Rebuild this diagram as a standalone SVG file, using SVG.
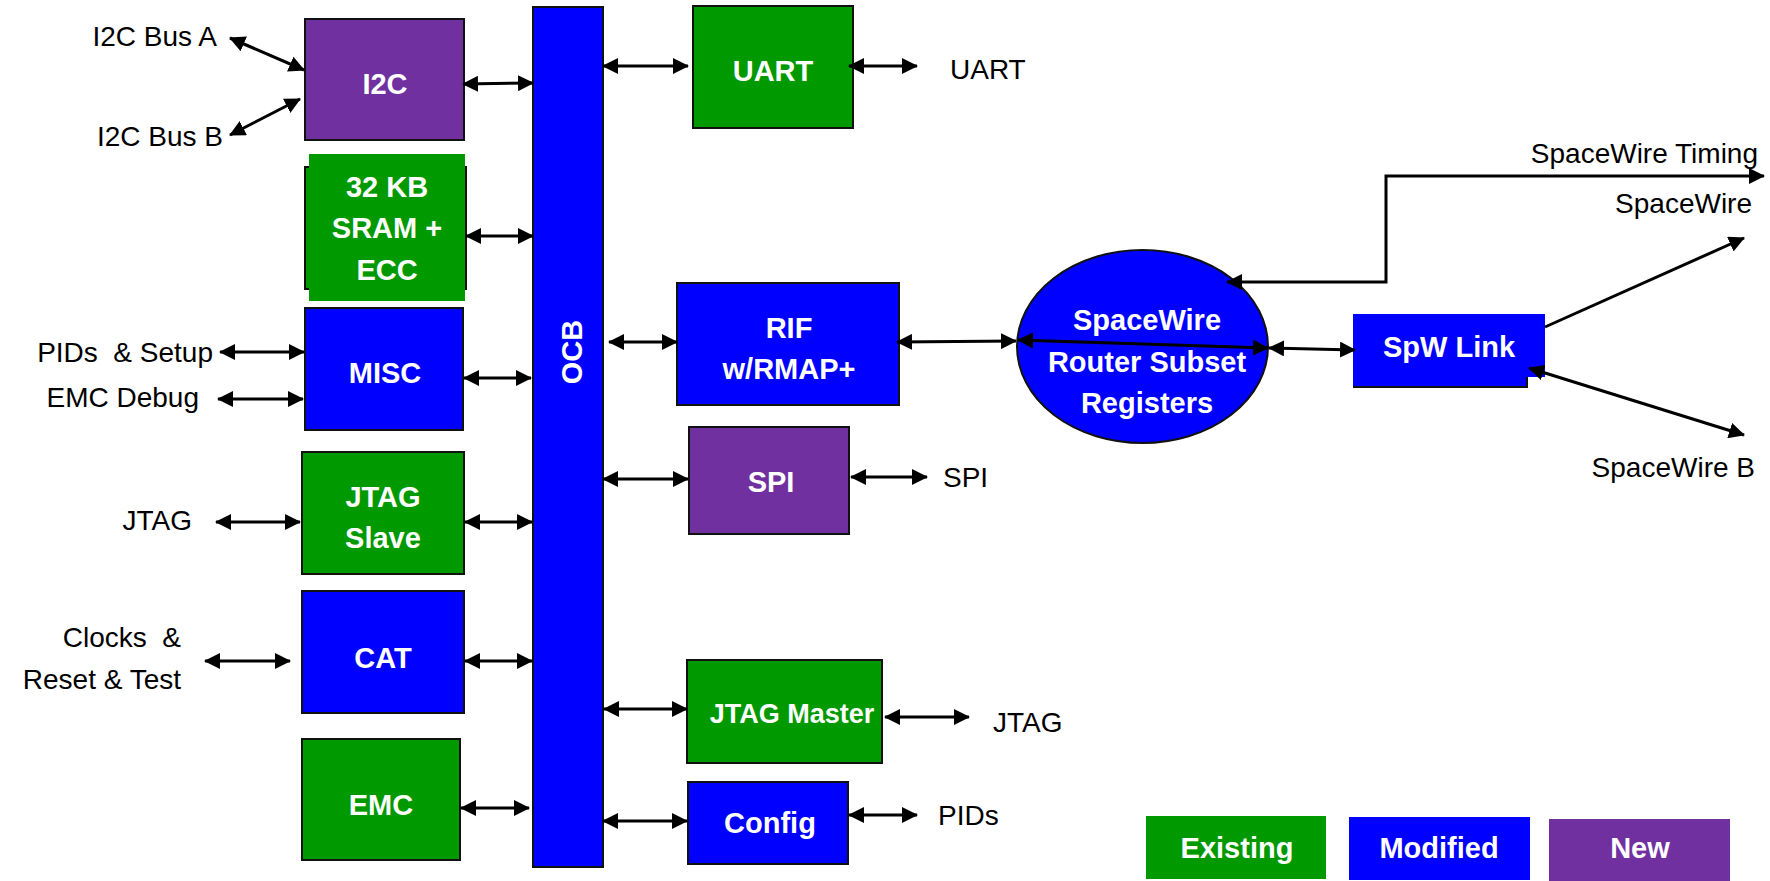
<svg xmlns="http://www.w3.org/2000/svg" width="1770" height="881" viewBox="0 0 1770 881">
<style>
.bg{fill:#fff}
.g{fill:#009900;stroke:#111;stroke-width:2}
.b{fill:#0000ff;stroke:#111;stroke-width:2}
.p{fill:#7030a0;stroke:#111;stroke-width:2}
.nl{font-family:"Liberation Sans",Arial,sans-serif;font-weight:bold;font-size:29px;fill:#fff;text-anchor:middle}
.el{font-family:"Liberation Sans",Arial,sans-serif;font-size:28px;fill:#000;white-space:pre}
.e{text-anchor:end}
.c line,.c polyline{stroke:#000;stroke-width:3;fill:none}
.bi{marker-start:url(#ah);marker-end:url(#ah)}
.one{marker-end:url(#ah)}
</style>
<defs>
<marker id="ah" viewBox="0 0 16 16" refX="15" refY="8" markerWidth="16" markerHeight="16" markerUnits="userSpaceOnUse" orient="auto-start-reverse"><path d="M0,0 L16,8 L0,16 z" fill="#000"/></marker>
</defs>
<rect class="bg" x="0" y="0" width="1770" height="881"/>

<g id="ocb"><rect class="b" x="533" y="7" width="70" height="860"/><text class="nl" transform="translate(572,352) rotate(-90)" x="0" y="10">OCB</text></g>

<g id="i2c"><rect class="p" x="305" y="19" width="159" height="121"/><text class="nl" x="385" y="94">I2C</text></g>
<g id="sram"><rect x="305" y="167" width="161" height="122" fill="#009900" stroke="#111" stroke-width="2"/><rect x="309" y="154" width="156" height="147" fill="#009900"/><text class="nl" x="387" y="197">32 KB</text><text class="nl" x="387" y="238">SRAM +</text><text class="nl" x="387" y="280">ECC</text></g>
<g id="misc"><rect class="b" x="305" y="308" width="158" height="122"/><text class="nl" x="385" y="383">MISC</text></g>
<g id="jtagslave"><rect class="g" x="302" y="452" width="162" height="122"/><text class="nl" x="383" y="507">JTAG</text><text class="nl" x="383" y="548">Slave</text></g>
<g id="cat"><rect class="b" x="302" y="591" width="162" height="122"/><text class="nl" x="383" y="668">CAT</text></g>
<g id="emc"><rect class="g" x="302" y="739" width="158" height="121"/><text class="nl" x="381" y="815">EMC</text></g>

<g id="uart"><rect class="g" x="693" y="6" width="160" height="122"/><text class="nl" x="773" y="81">UART</text></g>
<g id="rif"><rect class="b" x="677" y="283" width="222" height="122"/><text class="nl" x="789" y="338">RIF</text><text class="nl" x="789" y="379">w/RMAP+</text></g>
<g id="spi"><rect class="p" x="689" y="427" width="160" height="107"/><text class="nl" x="771" y="492">SPI</text></g>
<g id="jtagmaster"><rect class="g" x="687" y="660" width="195" height="103"/><text class="nl" x="792" y="723" style="font-size:27px">JTAG Master</text></g>
<g id="config"><rect class="b" x="688" y="782" width="160" height="82"/><text class="nl" x="770" y="833">Config</text></g>

<g id="router"><ellipse class="b" cx="1142.5" cy="346.5" rx="125.5" ry="96.5"/><text class="nl" x="1147" y="330">SpaceWire</text><text class="nl" x="1147" y="372">Router Subset</text><text class="nl" x="1147" y="413">Registers</text></g>
<g id="spwlink"><path d="M1353,314 H1545 V377 H1527 V387 H1353 Z" fill="#0000ff"/><polyline points="1353,387 1527,387 1527,377" fill="none" stroke="#111" stroke-width="2"/><text class="nl" x="1449" y="357">SpW Link</text></g>

<g id="legend-existing"><rect x="1146" y="816" width="180" height="63" fill="#009900"/><text class="nl" x="1237" y="858">Existing</text></g>
<g id="legend-modified"><rect x="1349" y="817" width="181" height="63" fill="#0000ff"/><text class="nl" x="1439" y="858">Modified</text></g>
<g id="legend-new"><rect x="1549" y="819" width="181" height="62" fill="#7030a0"/><text class="nl" x="1640" y="858">New</text></g>

<g id="labels">
<text class="el e" x="217" y="46">I2C Bus A</text>
<text class="el e" x="223" y="146">I2C Bus B</text>
<text class="el e" x="213" y="362">PIDs  &amp; Setup</text>
<text class="el e" x="199" y="407">EMC Debug</text>
<text class="el e" x="192" y="530">JTAG</text>
<text class="el e" x="181" y="647">Clocks  &amp;</text>
<text class="el e" x="181" y="689">Reset &amp; Test</text>
<text class="el" x="950" y="79">UART</text>
<text class="el" x="943" y="487">SPI</text>
<text class="el" x="993" y="732">JTAG</text>
<text class="el" x="938" y="825">PIDs</text>
<text class="el e" x="1758" y="163">SpaceWire Timing</text>
<text class="el e" x="1752" y="213">SpaceWire</text>
<text class="el e" x="1755" y="477">SpaceWire B</text>
</g>

<g id="connectors" class="c">
<line class="bi" x1="230" y1="38" x2="304" y2="70"/>
<line class="bi" x1="230" y1="135" x2="300" y2="99"/>
<line class="bi" x1="463" y1="84" x2="533" y2="83"/>
<line class="bi" x1="466" y1="236" x2="533" y2="236"/>
<line class="bi" x1="220" y1="352" x2="304" y2="352"/>
<line class="bi" x1="218" y1="399" x2="303" y2="399"/>
<line class="bi" x1="464" y1="378" x2="531" y2="378"/>
<line class="bi" x1="216" y1="522" x2="300" y2="522"/>
<line class="bi" x1="465" y1="522" x2="532" y2="522"/>
<line class="bi" x1="205" y1="661" x2="290" y2="661"/>
<line class="bi" x1="465" y1="661" x2="532" y2="661"/>
<line class="bi" x1="461" y1="808" x2="529" y2="808"/>
<line class="bi" x1="603" y1="66" x2="688" y2="66"/>
<line class="bi" x1="849" y1="66" x2="917" y2="66"/>
<line class="bi" x1="609" y1="342" x2="677" y2="342"/>
<line class="bi" x1="897" y1="342" x2="1016" y2="341"/>
<line class="bi" x1="603" y1="479" x2="688" y2="479"/>
<line class="bi" x1="851" y1="477" x2="927" y2="477"/>
<line class="bi" x1="604" y1="709" x2="687" y2="709"/>
<line class="bi" x1="885" y1="717" x2="969" y2="717"/>
<line class="bi" x1="603" y1="821" x2="687" y2="821"/>
<line class="bi" x1="849" y1="815" x2="917" y2="815"/>
<line class="bi" x1="1018" y1="340" x2="1268" y2="348"/>
<line class="bi" x1="1269" y1="348" x2="1355" y2="350"/>
<polyline class="bi" points="1227,282 1386,282 1386,176 1764,176"/>
<line class="one" x1="1545" y1="327" x2="1744" y2="238"/>
<line class="bi" x1="1529" y1="368" x2="1744" y2="435"/>
</g>
</svg>
